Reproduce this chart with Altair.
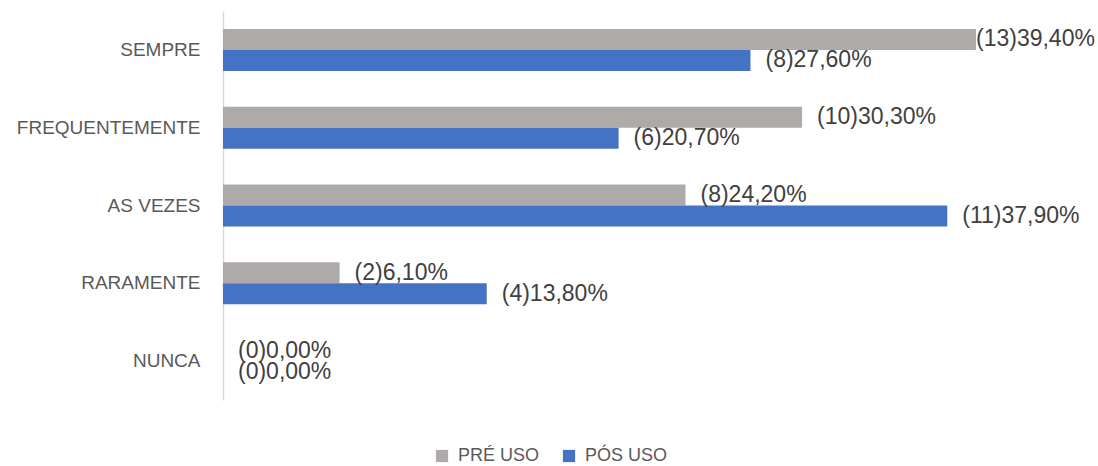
import altair as alt
import pandas as pd

categories = ["SEMPRE", "FREQUENTEMENTE", "AS VEZES", "RARAMENTE", "NUNCA"]
series = ["PRÉ USO", "PÓS USO"]
pre_counts = [13, 10, 8, 2, 0]
pre_pct = [39.40, 30.30, 24.20, 6.10, 0.00]
pos_counts = [8, 6, 11, 4, 0]
pos_pct = [27.60, 20.70, 37.90, 13.80, 0.00]
colors = ["#AEAAAA", "#4472C4"]

rows = []
for i, c in enumerate(categories):
    for s, n, p in ((series[0], pre_counts[i], pre_pct[i]), (series[1], pos_counts[i], pos_pct[i])):
        lab = "(%d)%s%%" % (n, ("%.2f" % p).replace(".", ","))
        # the longest label sits tight against its bar
        tight = 1 if p == max(pre_pct + pos_pct) else 0
        rows.append({"cat": c, "serie": s, "pct": p, "label": lab, "tight": tight})
df = pd.DataFrame(rows)

yscale = alt.Scale(paddingInner=0.46, paddingOuter=0.23)
y_enc = alt.Y("cat:N", sort=categories, scale=yscale,
              axis=alt.Axis(title=None, ticks=False, domainColor="#D9D9D9", domainWidth=1.5,
                            labelFont="Liberation Sans", labelFontSize=19, labelColor="#595959",
                            labelPadding=23, labelLimit=0, grid=False))
yoff = alt.YOffset("serie:N", sort=series)
x_enc = alt.X("pct:Q", scale=alt.Scale(domain=[0, 45]), axis=None)

bars = alt.Chart(df).mark_bar().encode(
    x=x_enc, y=y_enc, yOffset=yoff,
    color=alt.Color("serie:N", sort=series,
                    scale=alt.Scale(domain=series, range=colors),
                    legend=alt.Legend(title=None, orient="none", direction="horizontal",
                                      legendX=210, legendY=436, symbolType="square",
                                      symbolSize=150, symbolStrokeWidth=0,
                                      labelFont="Liberation Sans", labelFontSize=18,
                                      labelColor="#595959", labelOffset=7,
                                      columnPadding=20, padding=0)),
)

text_base = alt.Chart(df).encode(
    x=x_enc, y=alt.Y("cat:N", sort=categories, scale=yscale),
    yOffset=yoff, text="label:N")
labels = text_base.transform_filter("datum.tight == 0").mark_text(
    align="left", baseline="middle", dx=15, font="Liberation Sans", fontSize=23, color="#404040")
labels_tight = text_base.transform_filter("datum.tight == 1").mark_text(
    align="left", baseline="middle", dx=0, font="Liberation Sans", fontSize=23, color="#404040")

chart = alt.layer(bars, labels, labels_tight).properties(
    width=860, height=389,
    autosize=alt.AutoSizeParams(type="none"),
    padding={"left": 223, "top": 11, "right": 15, "bottom": 66},
).configure(background="white", view=alt.ViewConfig(strokeWidth=0, stroke=None))

chart.save("out.html", embed_options={"renderer": "svg", "actions": False})
